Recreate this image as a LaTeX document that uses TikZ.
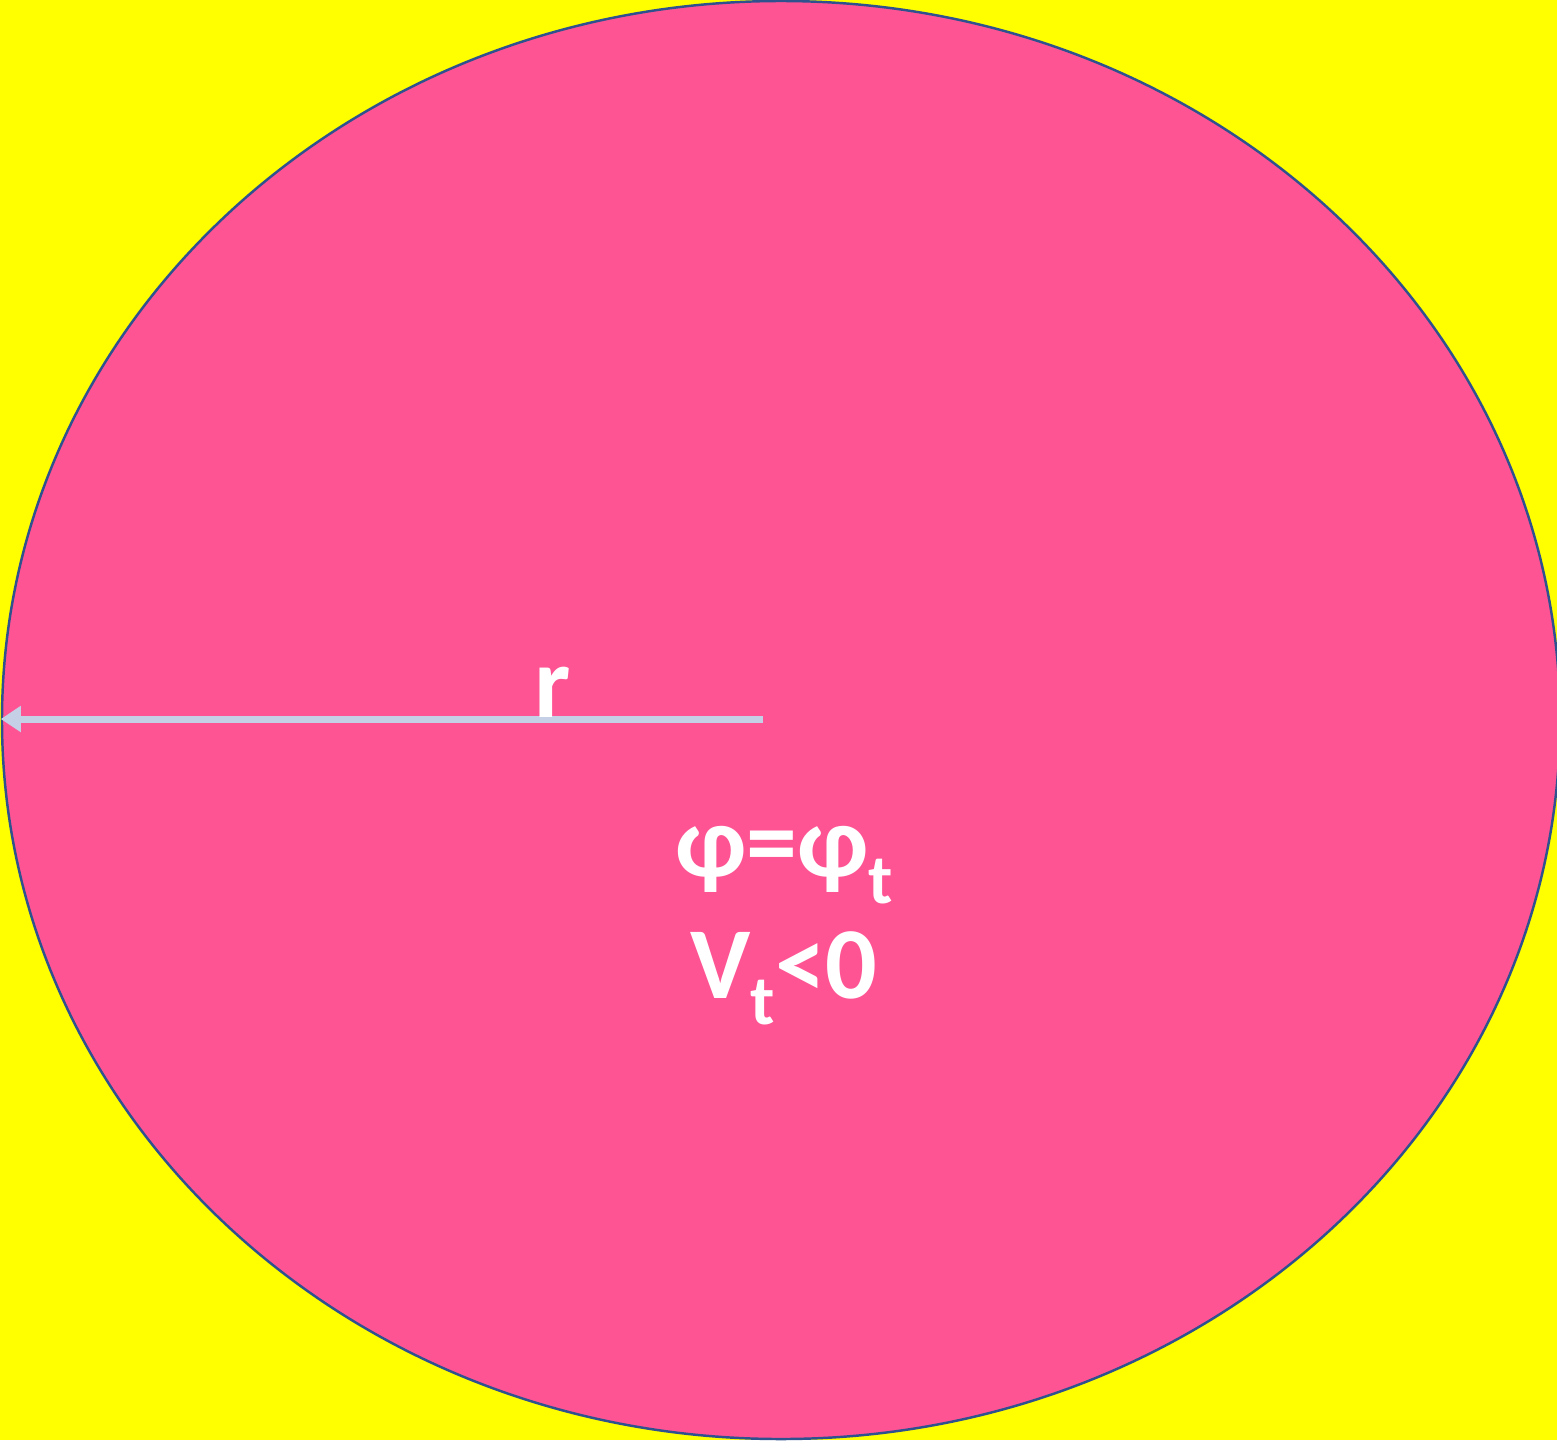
\documentclass[tikz,border=0pt]{standalone}
\usepackage{fontspec}
\setmainfont{Carlito}
\usepackage{xcolor}
\usetikzlibrary{arrows.meta, positioning, shapes.geometric}
\definecolor{bgyellow}{HTML}{FFFF00}
\definecolor{cellpink}{HTML}{FF5494}
\definecolor{rimblue}{HTML}{2F528F}
\definecolor{arrowgrey}{HTML}{C5D0E6}
\newcommand{\subt}{\raisebox{-0.26em}{\fontsize{20}{20}\selectfont t}}

\begin{document}
\begin{tikzpicture}[
   font=\fontsize{29}{36}\selectfont\bfseries,
   >={Triangle[length=0.2cm, width=0.25cm]},
   cellshape/.style={ellipse, draw=rimblue, line width=0.7pt, fill=cellpink,
                     minimum width=15.58cm, minimum height=14.38cm, inner sep=0pt},
   lbl/.style={text=white, align=center, inner sep=0pt},
]
% ---- background ----
\fill[bgyellow] (0,0) rectangle (15.57,-14.40);
\useasboundingbox (0,0) rectangle (15.57,-14.40);

% ---- the cell ----
\node[cellshape] (cell) at (7.81,-7.20) {};
\coordinate (ctr) at (7.63,-7.19);

% ---- radius ----
\draw[->, arrowgrey, line width=2pt] (ctr) -- (cell.west |- ctr);
\node[lbl, anchor=base] (rlbl) at (5.53,-7.17) {r};

% ---- condition ----
\node[lbl, anchor=base] (cond) at (7.84,-9.98)
   {φ=φ\subt\\[-1.5pt]V\subt<0};
\end{tikzpicture}
\end{document}
